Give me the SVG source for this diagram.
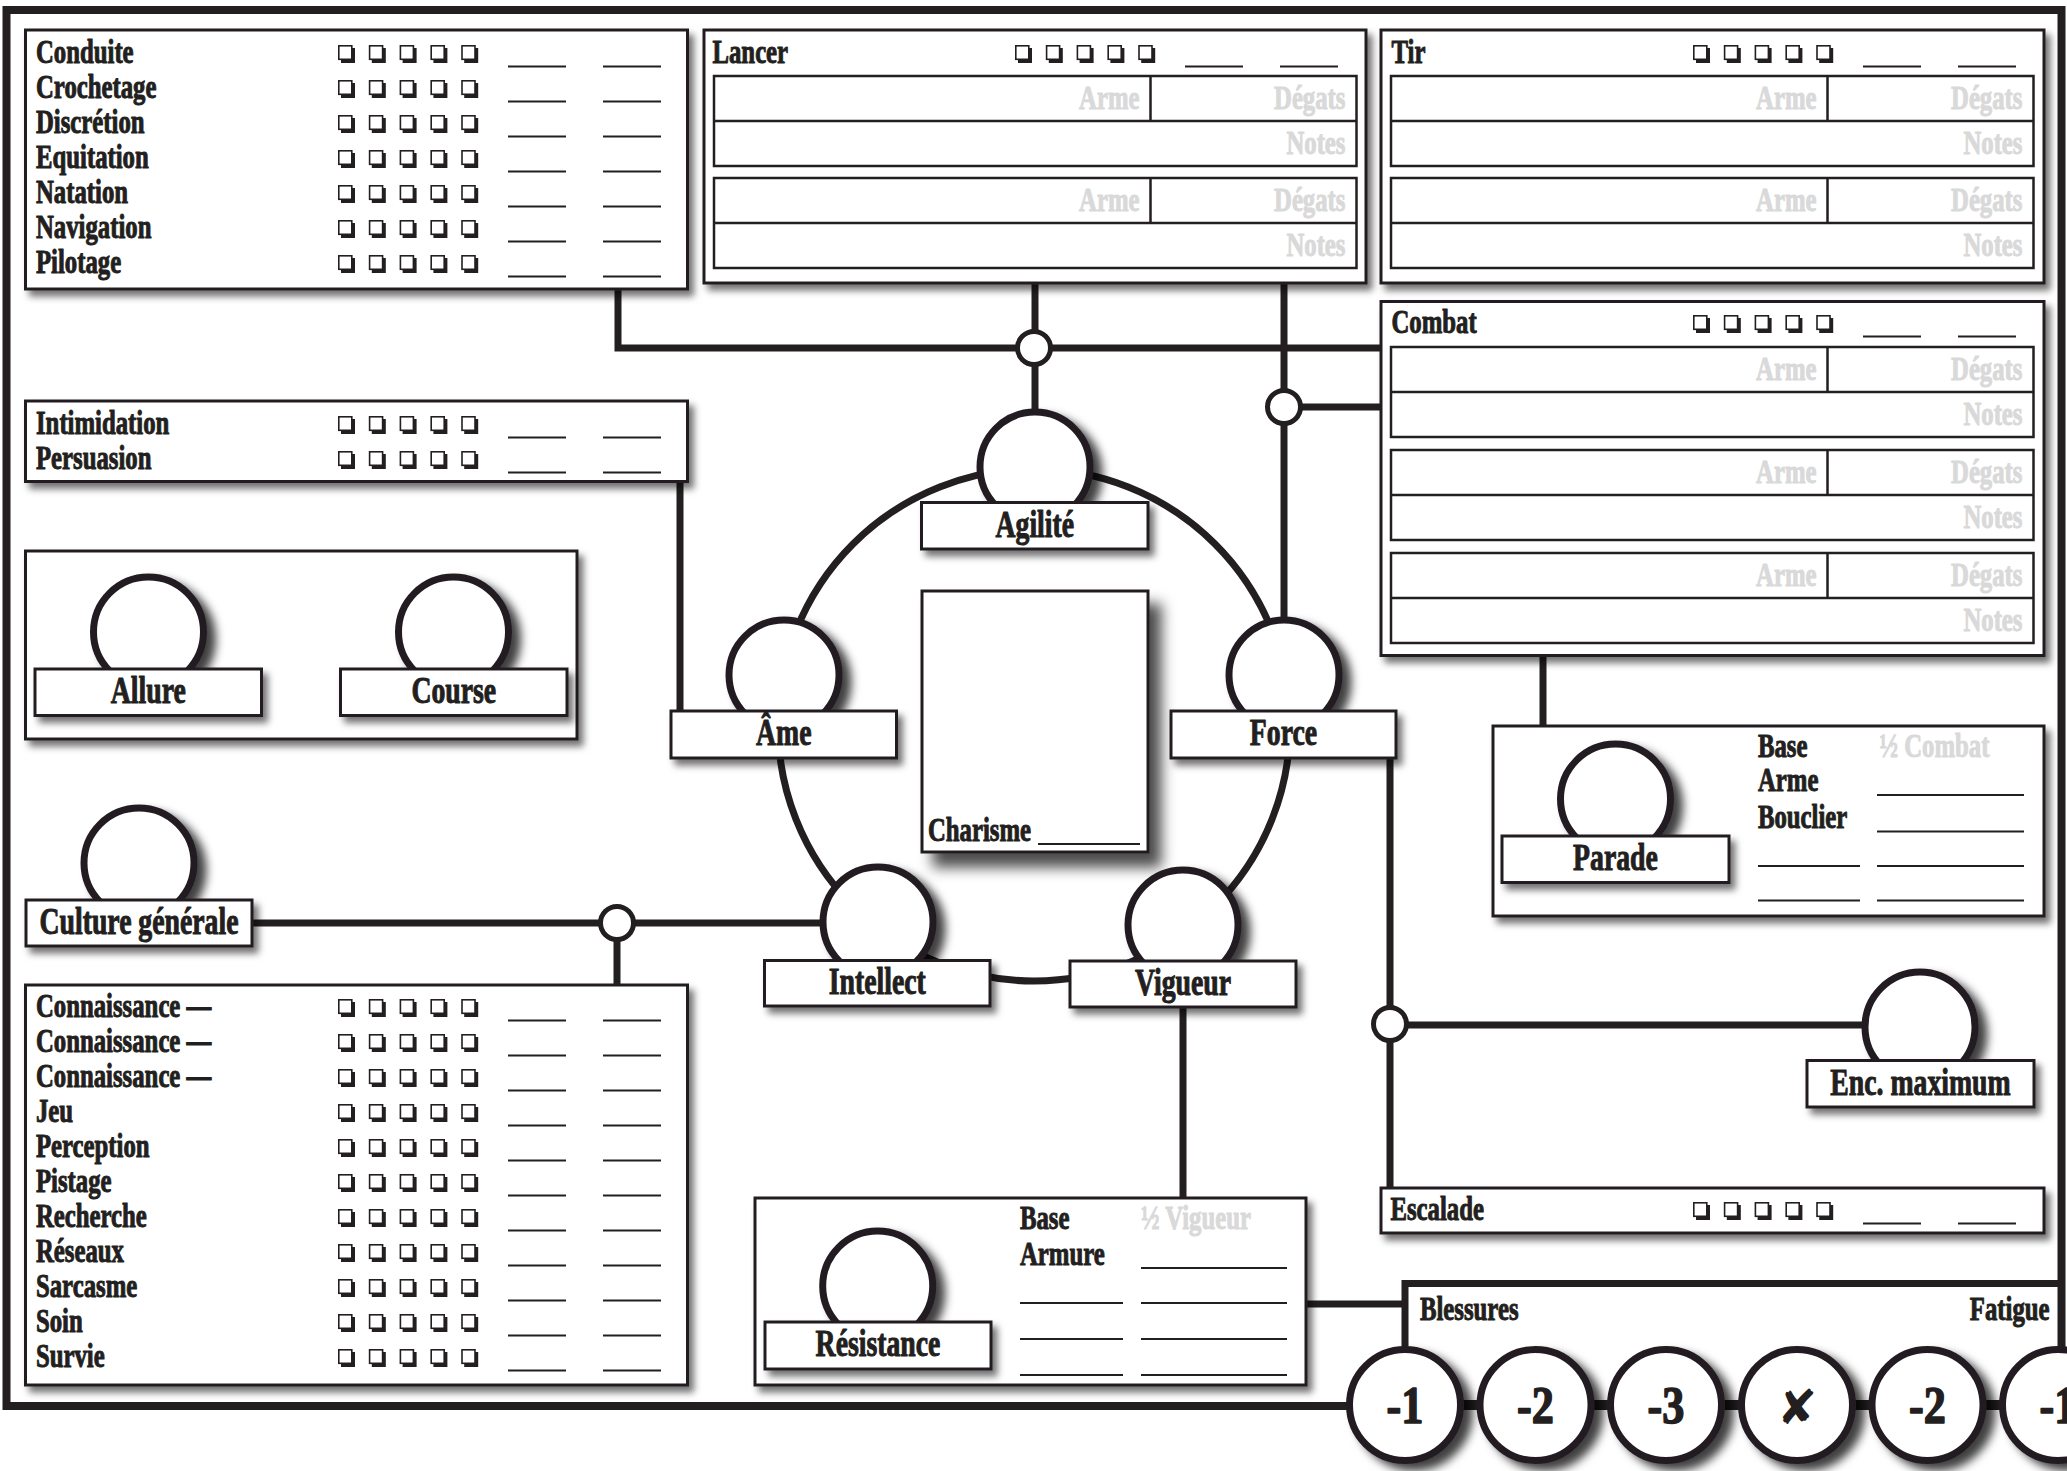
<svg xmlns="http://www.w3.org/2000/svg" xmlns:xlink="http://www.w3.org/1999/xlink" width="2067" height="1471" viewBox="0 0 2067 1471">
<defs>
<style>
.t{font-family:"Liberation Serif","Times New Roman",serif;font-weight:700;fill:#231f20;stroke:#231f20;stroke-width:1;stroke-linejoin:round;transform-box:fill-box;transform:scaleX(.75);transform-origin:0 0}
.s{font-size:33px}
.L{font-size:37px}
.m{text-anchor:middle;transform-origin:50% 0}
.e{text-anchor:end;transform-origin:100% 0}
.g{fill:#d9d9d9;stroke:#d9d9d9}
.N{font-size:52px;stroke-width:1.6;text-anchor:middle;transform:scaleX(.85);transform-origin:50% 0}
.x{font-family:"DejaVu Sans",sans-serif;font-size:48px;text-anchor:middle;fill:#231f20}
.box{fill:#fff;stroke:#231f20;stroke-width:3}
.lbl{fill:#fff;stroke:#231f20;stroke-width:3}
.in{fill:none;stroke:#231f20;stroke-width:2.5}
.c{fill:#fff;stroke:#231f20;stroke-width:7}
.j{fill:#fff;stroke:#231f20;stroke-width:5}
.ln{fill:none;stroke:#231f20;stroke-width:7}
.ul{fill:none;stroke:#231f20;stroke-width:2}
</style>
<filter id="sb" filterUnits="userSpaceOnUse" x="0" y="0" width="2067" height="1471"><feDropShadow dx="5" dy="6" stdDeviation="3.5" flood-color="#000" flood-opacity=".55"/></filter>
<filter id="sc" filterUnits="userSpaceOnUse" x="0" y="0" width="2067" height="1471"><feDropShadow dx="9" dy="7" stdDeviation="5" flood-color="#000" flood-opacity=".75"/></filter>
<filter id="sk" filterUnits="userSpaceOnUse" x="0" y="0" width="2067" height="1471"><feDropShadow dx="12" dy="14" stdDeviation="7" flood-color="#000" flood-opacity=".7"/></filter>
<g id="cb"><rect x="3" y="-15" width="14" height="15" fill="#231f20"/><rect x="0.8" y="-17.2" width="13" height="13.5" fill="#fff" stroke="#231f20" stroke-width="1.6"/></g>
<g id="row"><use href="#cb" x="0"/><use href="#cb" x="30.8"/><use href="#cb" x="61.6"/><use href="#cb" x="92.4"/><use href="#cb" x="123.2"/><path class="ul" d="M170 3.5H228M265 3.5H323"/></g>
<g id="wp"><rect class="in" x="0" y="0" width="642.5" height="90"/><path class="in" d="M0 45H642.5M436.5 0V45"/></g>
</defs>
<rect width="2067" height="1471" fill="#fff"/>
<g id="frame"><rect x="6.5" y="10" width="2055" height="1396" fill="none" stroke="#231f20" stroke-width="8"/></g>

<g id="connectors">
<circle cx="1034" cy="725" r="256" fill="none" stroke="#231f20" stroke-width="7"/>
<path class="ln" d="M618 289V348H1381"/>
<path class="ln" d="M1035 283V410"/>
<path class="ln" d="M1284 283V618"/>
<path class="ln" d="M1284 407H1381"/>
<path class="ln" d="M680 481V711"/>
<path class="ln" d="M252 923H824"/>
<path class="ln" d="M617 923V985"/>
<path class="ln" d="M1543 655V726"/>
<path class="ln" d="M1390 758V1188"/>
<path class="ln" d="M1390 1025H1864"/>
<path class="ln" d="M1183 1007V1198"/>
<path class="ln" d="M1306 1304H1405"/>
<circle class="j" cx="1034" cy="348" r="16.5"/>
<circle class="j" cx="1284" cy="407" r="16.5"/>
<circle class="j" cx="617" cy="923" r="16.5"/>
<circle class="j" cx="1390" cy="1024" r="16.5"/>
</g>

<g id="conduite">
<rect class="box" filter="url(#sb)" x="25.5" y="30" width="662" height="259"/>
<text class="t s" x="36" y="63">Conduite</text>
<text class="t s" x="36" y="98">Crochetage</text>
<text class="t s" x="36" y="133">Discrétion</text>
<text class="t s" x="36" y="168">Equitation</text>
<text class="t s" x="36" y="203">Natation</text>
<text class="t s" x="36" y="238">Navigation</text>
<text class="t s" x="36" y="273">Pilotage</text>
<use href="#row" x="338" y="63"/><use href="#row" x="338" y="98"/><use href="#row" x="338" y="133"/><use href="#row" x="338" y="168"/><use href="#row" x="338" y="203"/><use href="#row" x="338" y="238"/><use href="#row" x="338" y="273"/>
</g>

<g id="lancer">
<rect class="box" filter="url(#sb)" x="704" y="30" width="662" height="253"/>
<text class="t s" x="712.5" y="63">Lancer</text>
<use href="#row" x="1015" y="63"/>
<use href="#wp" x="714" y="76"/><use href="#wp" x="714" y="178"/>
<text class="t s e g" x="1139.5" y="109">Arme</text><text class="t s e g" x="1345.5" y="109">Dégats</text><text class="t s e g" x="1345.5" y="154">Notes</text>
<text class="t s e g" x="1139.5" y="211">Arme</text><text class="t s e g" x="1345.5" y="211">Dégats</text><text class="t s e g" x="1345.5" y="256">Notes</text>
</g>

<g id="tir">
<rect class="box" filter="url(#sb)" x="1381" y="30" width="663" height="253"/>
<text class="t s" x="1391.5" y="63">Tir</text>
<use href="#row" x="1693" y="63"/>
<use href="#wp" x="1391" y="76"/><use href="#wp" x="1391" y="178"/>
<text class="t s e g" x="1816.5" y="109">Arme</text><text class="t s e g" x="2022.5" y="109">Dégats</text><text class="t s e g" x="2022.5" y="154">Notes</text>
<text class="t s e g" x="1816.5" y="211">Arme</text><text class="t s e g" x="2022.5" y="211">Dégats</text><text class="t s e g" x="2022.5" y="256">Notes</text>
</g>

<g id="combat">
<rect class="box" filter="url(#sb)" x="1381" y="301.5" width="663" height="354"/>
<text class="t s" x="1391.5" y="333">Combat</text>
<use href="#row" x="1693" y="333"/>
<use href="#wp" x="1391" y="347"/><use href="#wp" x="1391" y="450"/><use href="#wp" x="1391" y="553"/>
<text class="t s e g" x="1816.5" y="380">Arme</text><text class="t s e g" x="2022.5" y="380">Dégats</text><text class="t s e g" x="2022.5" y="425">Notes</text>
<text class="t s e g" x="1816.5" y="483">Arme</text><text class="t s e g" x="2022.5" y="483">Dégats</text><text class="t s e g" x="2022.5" y="528">Notes</text>
<text class="t s e g" x="1816.5" y="586">Arme</text><text class="t s e g" x="2022.5" y="586">Dégats</text><text class="t s e g" x="2022.5" y="631">Notes</text>
</g>

<g id="intimidation">
<rect class="box" filter="url(#sb)" x="25.5" y="401" width="662" height="80.5"/>
<text class="t s" x="36" y="434">Intimidation</text>
<text class="t s" x="36" y="469">Persuasion</text>
<use href="#row" x="338" y="434"/><use href="#row" x="338" y="469"/>
</g>

<g id="mouvement">
<rect class="box" filter="url(#sb)" x="25.5" y="551" width="551.5" height="188"/>
</g>
<g id="allure">
<circle class="c" filter="url(#sc)" cx="148.5" cy="632" r="55"/>
<rect class="lbl" filter="url(#sb)" x="35" y="669" width="226.5" height="46.5"/>
<text class="t L m" x="148.3" y="703">Allure</text>
</g>
<g id="course">
<circle class="c" filter="url(#sc)" cx="453.5" cy="632" r="55"/>
<rect class="lbl" filter="url(#sb)" x="340.5" y="669" width="226.5" height="46.5"/>
<text class="t L m" x="453.8" y="703">Course</text>
</g>

<g id="culture">
<circle class="c" filter="url(#sc)" cx="139" cy="863" r="55"/>
<rect class="lbl" filter="url(#sb)" x="26" y="900" width="226" height="46"/>
<text class="t L m" x="139" y="934">Culture générale</text>
</g>

<g id="connaissances">
<rect class="box" filter="url(#sb)" x="25.5" y="985" width="662" height="400"/>
<text class="t s" x="36" y="1017">Connaissance —</text>
<text class="t s" x="36" y="1052">Connaissance —</text>
<text class="t s" x="36" y="1087">Connaissance —</text>
<text class="t s" x="36" y="1122">Jeu</text>
<text class="t s" x="36" y="1157">Perception</text>
<text class="t s" x="36" y="1192">Pistage</text>
<text class="t s" x="36" y="1227">Recherche</text>
<text class="t s" x="36" y="1262">Réseaux</text>
<text class="t s" x="36" y="1297">Sarcasme</text>
<text class="t s" x="36" y="1332">Soin</text>
<text class="t s" x="36" y="1367">Survie</text>
<use href="#row" x="338" y="1017"/><use href="#row" x="338" y="1052"/><use href="#row" x="338" y="1087"/><use href="#row" x="338" y="1122"/><use href="#row" x="338" y="1157"/><use href="#row" x="338" y="1192"/><use href="#row" x="338" y="1227"/><use href="#row" x="338" y="1262"/><use href="#row" x="338" y="1297"/><use href="#row" x="338" y="1332"/><use href="#row" x="338" y="1367"/>
</g>

<g id="charisme">
<rect class="box" filter="url(#sk)" x="922" y="591" width="226" height="261"/>
<text class="t s" x="928" y="841">Charisme</text>
<path class="ul" d="M1038 844H1140"/>
</g>

<g id="agilite">
<circle class="c" filter="url(#sc)" cx="1035" cy="467" r="55"/>
<rect class="lbl" filter="url(#sb)" x="921.5" y="502.5" width="226.5" height="46.5"/>
<text class="t L m" x="1034.8" y="537">Agilité</text>
</g>
<g id="ame">
<circle class="c" filter="url(#sc)" cx="784" cy="675" r="55"/>
<rect class="lbl" filter="url(#sb)" x="671" y="711" width="225.5" height="47"/>
<text class="t L m" x="783.8" y="745.5">Âme</text>
</g>
<g id="force">
<circle class="c" filter="url(#sc)" cx="1284" cy="675" r="55"/>
<rect class="lbl" filter="url(#sb)" x="1171" y="711" width="225" height="47"/>
<text class="t L m" x="1283.5" y="745.5">Force</text>
</g>
<g id="intellect">
<circle class="c" filter="url(#sc)" cx="878" cy="922" r="55"/>
<rect class="lbl" filter="url(#sb)" x="764.5" y="960.5" width="225.5" height="45.5"/>
<text class="t L m" x="877.3" y="994">Intellect</text>
</g>
<g id="vigueur">
<circle class="c" filter="url(#sc)" cx="1183" cy="925" r="55"/>
<rect class="lbl" filter="url(#sb)" x="1070" y="961" width="226" height="46"/>
<text class="t L m" x="1183" y="995">Vigueur</text>
</g>

<g id="parade">
<rect class="box" filter="url(#sb)" x="1493" y="726" width="551" height="190"/>
<circle class="c" filter="url(#sc)" cx="1615.5" cy="799" r="55"/>
<rect class="lbl" filter="url(#sb)" x="1502" y="836" width="227" height="46.5"/>
<text class="t L m" x="1615.5" y="870">Parade</text>
<text class="t s" x="1758" y="757">Base</text>
<text class="t s" x="1758" y="791">Arme</text>
<text class="t s" x="1758" y="828">Bouclier</text>
<text class="t s g" x="1879.5" y="757">½ Combat</text>
<path class="ul" d="M1877 795H2024M1877 831.5H2024M1877 866H2024M1877 900.5H2024M1758 866H1860M1758 900.5H1860"/>
</g>

<g id="encombrement">
<circle class="c" filter="url(#sc)" cx="1920" cy="1027" r="55"/>
<rect class="lbl" filter="url(#sb)" x="1807" y="1060.5" width="227" height="46.5"/>
<text class="t L m" x="1920.5" y="1095">Enc. maximum</text>
</g>

<g id="escalade">
<rect class="box" filter="url(#sb)" x="1381" y="1188" width="663" height="45"/>
<text class="t s" x="1390.5" y="1220">Escalade</text>
<use href="#row" x="1693" y="1220"/>
</g>

<g id="resistance">
<rect class="box" filter="url(#sb)" x="755" y="1198" width="551" height="187"/>
<circle class="c" filter="url(#sc)" cx="877.7" cy="1286" r="55"/>
<rect class="lbl" filter="url(#sb)" x="765" y="1322" width="226" height="47"/>
<text class="t L m" x="878" y="1356.5">Résistance</text>
<text class="t s" x="1020" y="1229">Base</text>
<text class="t s" x="1020" y="1265">Armure</text>
<text class="t s g" x="1141" y="1229">½ Vigueur</text>
<path class="ul" d="M1141 1268H1287M1141 1303H1287M1141 1339H1287M1141 1375H1287M1020 1303H1123M1020 1339H1123M1020 1375H1123"/>
</g>

<g id="blessures">
<path class="ln" d="M1405 1406V1283.5H2062"/>
<text class="t s" x="1420" y="1320">Blessures</text>
<text class="t s e" x="2049.5" y="1320">Fatigue</text>
<path d="M1405 1405H2062" stroke="#231f20" stroke-width="10"/>
<circle class="c" filter="url(#sc)" cx="1405" cy="1405" r="55.5"/>
<circle class="c" filter="url(#sc)" cx="1535.5" cy="1405" r="55.5"/>
<circle class="c" filter="url(#sc)" cx="1666" cy="1405" r="55.5"/>
<circle class="c" filter="url(#sc)" cx="1797" cy="1405" r="55.5"/>
<circle class="c" filter="url(#sc)" cx="1927.5" cy="1405" r="55.5"/>
<circle class="c" filter="url(#sc)" cx="2058" cy="1405" r="55.5"/>
<text class="t N" x="1405" y="1423">-1</text>
<text class="t N" x="1535.5" y="1423">-2</text>
<text class="t N" x="1666" y="1423">-3</text>
<text class="x" x="1797" y="1424">✘</text>
<text class="t N" x="1927.5" y="1423">-2</text>
<text class="t N" x="2058" y="1423">-1</text>
</g>
</svg>
